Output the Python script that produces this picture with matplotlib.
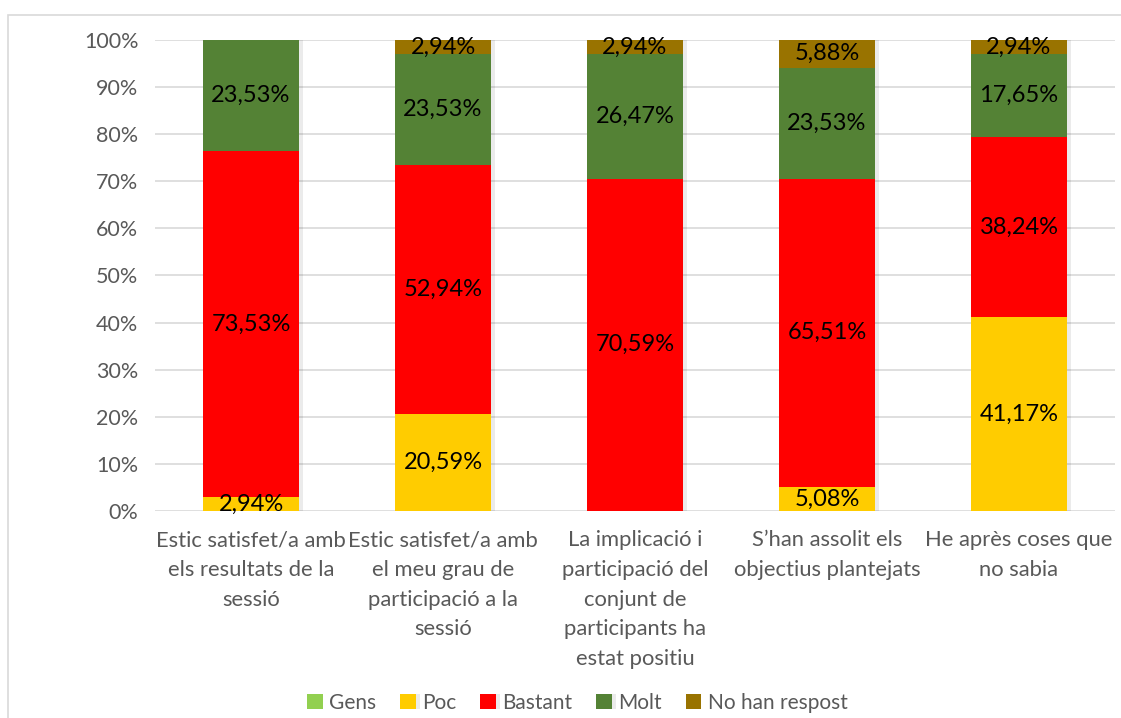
import numpy as np
import matplotlib.pyplot as plt
from matplotlib.patches import Rectangle
import matplotlib.patheffects as pe

plt.rcParams['font.family'] = ['Lato', 'DejaVu Sans']

# Dades
categories = [
    "Estic satisfet/a amb\nels resultats de la\nsessió",
    "Estic satisfet/a amb\nel meu grau de\nparticipació a la\nsessió",
    "La implicació i\nparticipació del\nconjunt de\nparticipants ha\nestat positiu",
    "S’han assolit els\nobjectius plantejats",
    "He après coses que\nno sabia",
]
series = ["Gens", "Poc", "Bastant", "Molt", "No han respost"]
gens = [0, 0, 0, 0, 0]
poc = [2.94, 20.59, 0, 5.08, 41.17]
bastant = [73.53, 52.94, 70.59, 65.51, 38.24]
molt = [23.53, 23.53, 26.47, 23.53, 17.65]
no_resp = [0, 2.94, 2.94, 5.88, 2.94]
colors = ["#92D050", "#FFCC00", "#FF0000", "#548235", "#997300"]

values = [gens, poc, bastant, molt, no_resp]

fig = plt.figure(figsize=(11.21, 7.18), dpi=100)
ax = fig.add_axes([0.1383, 0.2883, 0.8563, 0.656])

# marc del gràfic
fig.patches.append(Rectangle((0.0071, -0.05), 1.05, 0.979 + 0.05, transform=fig.transFigure,
                             fill=False, edgecolor="#D9D9D9", linewidth=1.2))

x = np.arange(len(categories))
bottom = np.zeros(len(categories))
for name, vals, col in zip(series, values, colors):
    vals = np.array(vals, dtype=float)
    bars = ax.bar(x, vals, bottom=bottom, width=0.5, color=col, label=name, zorder=3)
    for b, v in zip(bars, vals):
        if v > 0:
            b.set_path_effects([pe.SimplePatchShadow(offset=(3, 0), shadow_rgbFace="#000000", alpha=0.08), pe.Normal()])
            ax.text(b.get_x() + b.get_width() / 2, b.get_y() + v / 2,
                    f"{v:.2f}%".replace(".", ","), ha="center", va="center",
                    fontsize=17, color="black", zorder=4)
    bottom += vals

ax.set_xlim(-0.5, len(categories) - 0.5)
ax.set_ylim(0, 100)
ax.set_yticks(np.arange(0, 101, 10))
ax.set_yticklabels([f"{t}%" for t in range(0, 101, 10)], fontsize=15.5, color="#595959")
ax.set_xticks(x)
ax.set_xticklabels(categories, fontsize=15.8, color="#595959", linespacing=1.6, va="top")
ax.tick_params(axis="y", length=0, pad=12)
ax.tick_params(axis="x", length=0, pad=14)
for s in ax.spines.values():
    s.set_visible(False)
ax.grid(axis="y", color="#D9D9D9", linewidth=1.2, zorder=0)
ax.set_axisbelow(True)

leg = fig.legend(loc="center", bbox_to_anchor=(0.515, 0.021), ncol=5, frameon=False,
                 fontsize=15, handlelength=0.75, handleheight=0.75, handletextpad=0.3,
                 columnspacing=1.15, borderpad=0)
for t in leg.get_texts():
    t.set_color("#595959")

fig.savefig("out.png", dpi=100)
